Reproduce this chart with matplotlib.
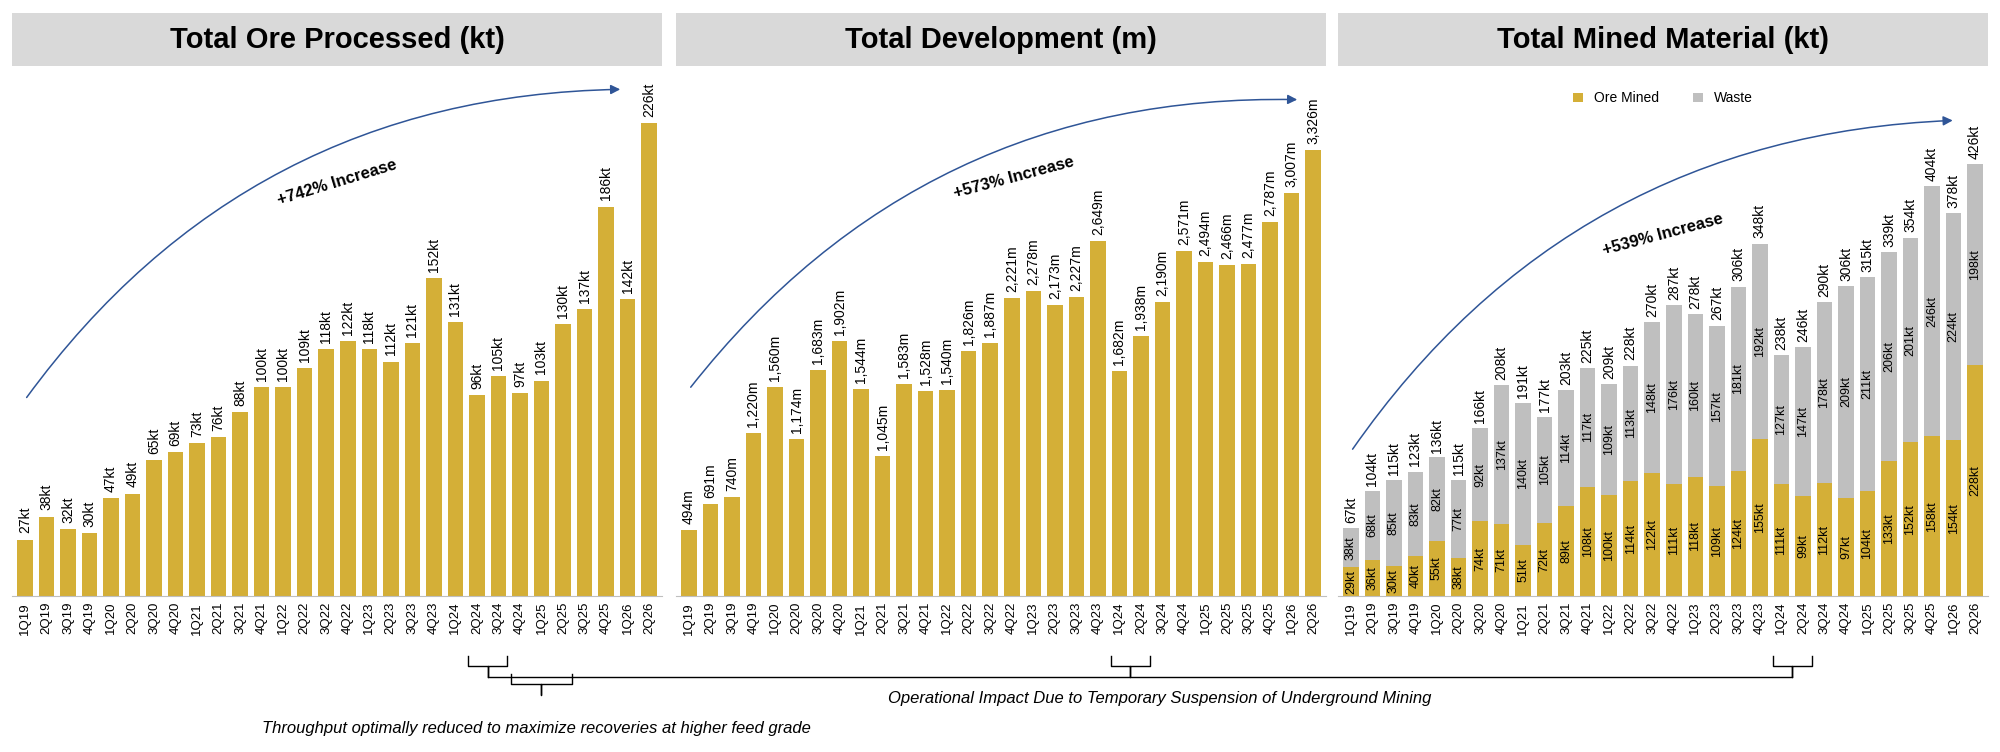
import matplotlib
matplotlib.use("Agg")
import matplotlib.pyplot as plt
import matplotlib.transforms as mtransforms
from matplotlib.patches import Rectangle, FancyArrowPatch

plt.rcParams['font.family'] = ['Liberation Sans', 'DejaVu Sans']

quarters = [f"{q}Q{y}" for y in range(19, 27) for q in range(1, 5)][:30]

ore_processed = [27, 38, 32, 30, 47, 49, 65, 69, 73, 76, 88, 100, 100, 109, 118,
                 122, 118, 112, 121, 152, 131, 96, 105, 97, 103, 130, 137, 186, 142, 226]
development = [494, 691, 740, 1220, 1560, 1174, 1683, 1902, 1544, 1045, 1583, 1528,
               1540, 1826, 1887, 2221, 2278, 2173, 2227, 2649, 1682, 1938, 2190, 2571,
               2494, 2466, 2477, 2787, 3007, 3326]
ore_mined = [29, 36, 30, 40, 55, 38, 74, 71, 51, 72, 89, 108, 100, 114, 122, 111, 118,
             109, 124, 155, 111, 99, 112, 97, 104, 133, 152, 158, 154, 228]
waste = [38, 68, 85, 83, 82, 77, 92, 137, 140, 105, 114, 117, 109, 113, 148, 176, 160,
         157, 181, 192, 127, 147, 178, 209, 211, 206, 201, 246, 224, 198]
mined_total = [67, 104, 115, 123, 136, 115, 166, 208, 191, 177, 203, 225, 209, 228, 270,
               287, 278, 267, 306, 348, 238, 246, 290, 306, 315, 339, 354, 404, 378, 426]

titles = ["Total Ore Processed (kt)", "Total Development (m)", "Total Mined Material (kt)"]
increases = ["+742% Increase", "+573% Increase", "+539% Increase"]

GOLD = "#D4AF37"
GREY = "#BFBFBF"
BANNER = "#D9D9D9"

fig = plt.figure(figsize=(20, 7.52), dpi=100)

lefts = [0.006, 0.338, 0.669]
width = 0.325
ax_bottom, ax_top = 0.207, 0.895
axes = []
x = list(range(len(quarters)))

for i, left in enumerate(lefts):
    fig.patches.append(Rectangle((left, 0.912), width, 0.071, transform=fig.transFigure,
                                 facecolor=BANNER, edgecolor='none'))
    fig.text(left + width / 2, 0.947, titles[i], ha='center', va='center',
             fontsize=21, fontweight='bold')
    ax = fig.add_axes([left, ax_bottom, width, ax_top - ax_bottom])
    for s in ['top', 'right', 'left']:
        ax.spines[s].set_visible(False)
    ax.spines['bottom'].set_color('#BFBFBF')
    ax.set_yticks([])
    ax.set_xticks(x)
    ax.set_xticklabels(quarters, rotation=90, fontsize=9.5)
    ax.tick_params(axis='x', length=0, pad=4)
    ax.set_xlim(-0.6, len(quarters) - 0.4)
    axes.append(ax)

ax1, ax2, ax3 = axes

ax1.bar(x, ore_processed, width=0.72, color=GOLD)
ax1.set_ylim(0, 247)
for xi, v in zip(x, ore_processed):
    ax1.text(xi, v + 3, f"{v}kt", rotation=90, ha='center', va='bottom', fontsize=10)

ax2.bar(x, development, width=0.72, color=GOLD)
ax2.set_ylim(0, 3855)
for xi, v in zip(x, development):
    ax2.text(xi, v + 45, f"{v:,}m", rotation=90, ha='center', va='bottom', fontsize=10)

ax3.bar(x, ore_mined, width=0.72, color=GOLD, label="Ore Mined")
ax3.bar(x, waste, width=0.72, bottom=ore_mined, color=GREY, label="Waste")
ax3.set_ylim(0, 510)
for xi, o, w, t in zip(x, ore_mined, waste, mined_total):
    ax3.text(xi, o / 2, f"{o}kt", rotation=90, ha='center', va='center', fontsize=9)
    ax3.text(xi, o + w / 2, f"{w}kt", rotation=90, ha='center', va='center', fontsize=9)
    ax3.text(xi, t + 5, f"{t}kt", rotation=90, ha='center', va='bottom', fontsize=10)
ax3.legend(loc='upper center', bbox_to_anchor=(0.5, 1.0), ncol=2, frameon=False,
           fontsize=10, handlelength=0.7, handleheight=0.7, columnspacing=2.5)

# curved arrows
arrows = [((0.02, 0.38), (0.94, 0.98), (0.50, 0.80), 17),
          ((0.02, 0.40), (0.96, 0.96), (0.52, 0.81), 15),
          ((0.02, 0.28), (0.95, 0.92), (0.50, 0.70), 15)]
for ax, (start, end, tpos, rot), label in zip(axes, arrows, increases):
    ax.add_patch(FancyArrowPatch(start, end, transform=ax.transAxes,
                                 connectionstyle="arc3,rad=-0.25", arrowstyle='-|>',
                                 mutation_scale=14, color='#2F5597', lw=1.1, clip_on=False))
    ax.text(tpos[0], tpos[1], label, transform=ax.transAxes, rotation=rot,
            ha='center', va='center', fontsize=12, fontweight='bold')


def brace(ax, x0, x1, y, h=0.014):
    tr = mtransforms.blended_transform_factory(ax.transData, fig.transFigure)
    xm = (x0 + x1) / 2
    ax.plot([x0, x0, xm, xm, xm, x1, x1], [y + h, y, y, y - h, y, y, y + h],
            transform=tr, color='black', lw=1, clip_on=False)


brace(ax1, 20.6, 22.4, 0.114)
brace(ax1, 22.6, 25.4, 0.090)
brace(ax2, 19.6, 21.4, 0.114)
brace(ax3, 19.6, 21.4, 0.114)

# connecting line
y_line = 0.100
x_start = ax1.transData.transform((21.5, 0))[0] / fig.bbox.width
x_end = ax3.transData.transform((20.5, 0))[0] / fig.bbox.width
fig.add_artist(plt.Line2D([x_start, x_end], [y_line, y_line], transform=fig.transFigure,
                          color='black', lw=1))
fig.text(0.58, 0.071, "Operational Impact Due to Temporary Suspension of Underground Mining",
         ha='center', va='center', fontsize=12, style='italic')
fig.text(0.268, 0.031, "Throughput optimally reduced to maximize recoveries at higher feed grade",
         ha='center', va='center', fontsize=12, style='italic')

fig.savefig("out.png", dpi=100)
